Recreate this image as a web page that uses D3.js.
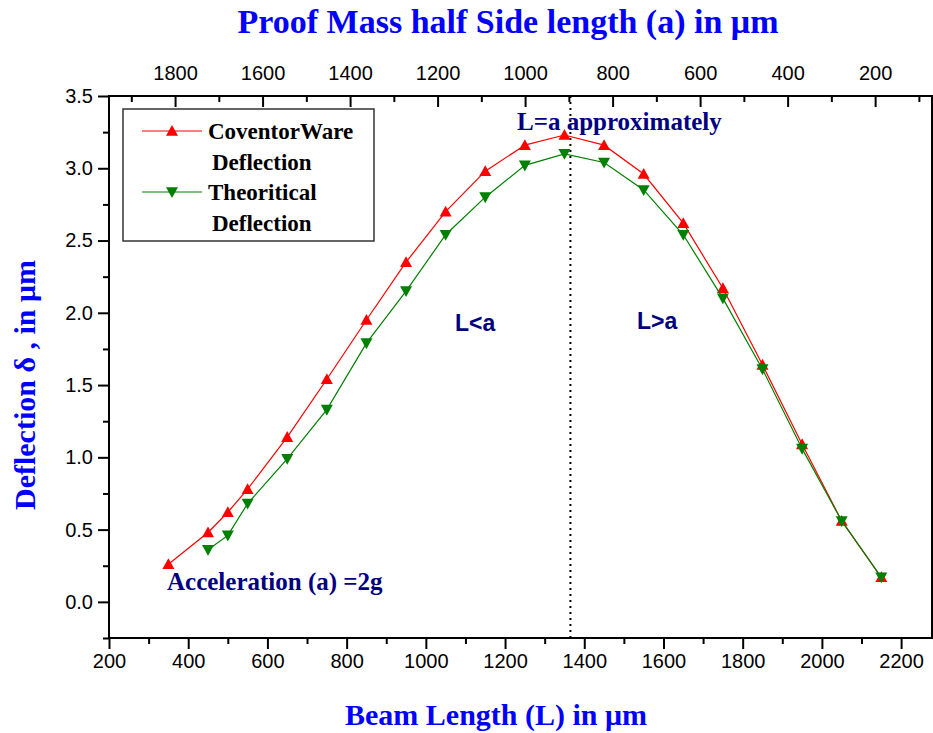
<!DOCTYPE html>
<html>
<head>
<meta charset="utf-8">
<script src="https://cdn.jsdelivr.net/npm/d3@7"></script>
<style>
  body { margin: 0; background: #fff; }
  svg text { font-family: "Liberation Sans", Arial, sans-serif; }
</style>
</head>
<body>
<div id="my_dataviz"></div>
<script>
// beam length values (x) and deflection for each series
var beamLength = [350, 450, 500, 550, 650, 750, 850, 950, 1050, 1150, 1250, 1350, 1450, 1550, 1650, 1750, 1850, 1950, 2050, 2150];
var coventorWare = [0.26, 0.48, 0.62, 0.78, 1.14, 1.54, 1.95, 2.35, 2.70, 2.98, 3.16, 3.23, 3.16, 2.96, 2.62, 2.17, 1.64, 1.09, 0.56, 0.17];
var theoritical = [null, 0.36, 0.46, 0.68, 0.99, 1.33, 1.79, 2.15, 2.54, 2.80, 3.02, 3.10, 3.04, 2.85, 2.54, 2.10, 1.61, 1.06, 0.56, 0.17];
var bottomTicks = [200, 400, 600, 800, 1000, 1200, 1400, 1600, 1800, 2000, 2200];
var topTicks = [1800, 1600, 1400, 1200, 1000, 800, 600, 400, 200];
var yTicks = [0.0, 0.5, 1.0, 1.5, 2.0, 2.5, 3.0, 3.5];
var crossover = 1365;

var W = 933, H = 733;
var margin = {top: 96, right: 1, bottom: 95, left: 109};
var width = W - margin.left - margin.right;
var height = H - margin.top - margin.bottom;
var serif = "'Liberation Serif', 'Times New Roman', serif";

var svg = d3.select("#my_dataviz")
    .append("svg")
    .attr("width", W)
    .attr("height", H);

var g = svg.append("g")
    .attr("transform", "translate(" + margin.left + "," + margin.top + ")");

var xScale = d3.scaleLinear().domain([200, 2278]).range([0, width]);
var xTop = d3.scaleLinear().domain([1951, 70]).range([0, width]);
var yScale = d3.scaleLinear().domain([-0.25, 3.5]).range([height, 0]);

// frame
g.append("rect")
    .attr("width", width).attr("height", height)
    .attr("fill", "none").attr("stroke", "#000").attr("stroke-width", 2);

function styleAxis(sel) {
    sel.select(".domain").remove();
    sel.selectAll("line").attr("stroke", "#000").attr("stroke-width", 2);
    sel.selectAll("text").attr("font-size", 20).attr("fill", "#000")
        .style("font-family", "'Liberation Sans', Arial, sans-serif");
}

// bottom axis (major + minor)
g.append("g")
    .attr("transform", "translate(0," + height + ")")
    .call(d3.axisBottom(xScale).tickValues(d3.range(300, 2278, 200)).tickSize(6).tickFormat(""))
    .call(styleAxis);
g.append("g")
    .attr("transform", "translate(0," + height + ")")
    .call(d3.axisBottom(xScale).tickValues(bottomTicks).tickSize(11).tickPadding(5).tickFormat(d3.format("d")))
    .call(styleAxis);

// left axis
g.append("g")
    .call(d3.axisLeft(yScale).tickValues([-0.25, 0.25, 0.75, 1.25, 1.75, 2.25, 2.75, 3.25]).tickSize(6).tickFormat(""))
    .call(styleAxis);
g.append("g")
    .call(d3.axisLeft(yScale).tickValues(yTicks).tickSize(11).tickPadding(5).tickFormat(d3.format(".1f")))
    .call(styleAxis);

// top axis: ticks point inward, labels above
g.append("g")
    .call(d3.axisTop(xTop).tickValues(d3.range(1900, 70, -200)).tickSize(-6).tickFormat(""))
    .call(styleAxis);
var topAx = g.append("g")
    .call(d3.axisTop(xTop).tickValues(topTicks).tickSize(-11).tickPadding(0).tickFormat(d3.format("d")))
    .call(styleAxis);
topAx.selectAll("text").attr("y", -16);

// dotted L = a line
g.append("line")
    .attr("x1", xScale(crossover)).attr("x2", xScale(crossover))
    .attr("y1", 0).attr("y2", height)
    .attr("stroke", "#000").attr("stroke-width", 2)
    .attr("stroke-dasharray", "2,4");

var series = [
    {name: "CoventorWare", values: coventorWare, color: "#ff0000", symbol: "up"},
    {name: "Theoritical", values: theoritical, color: "#008000", symbol: "down"}
];

var line = d3.line()
    .x(function(d) { return xScale(d.x); })
    .y(function(d) { return yScale(d.v); });

function triPath(dir) {
    var s = 6;
    if (dir === "up") return "M0," + (-s) + "L" + s + "," + (s * 0.8) + "L" + (-s) + "," + (s * 0.8) + "Z";
    return "M0," + s + "L" + s + "," + (-s * 0.8) + "L" + (-s) + "," + (-s * 0.8) + "Z";
}

series.forEach(function(s) {
    var pts = beamLength.map(function(x, i) { return {x: x, v: s.values[i]}; })
        .filter(function(d) { return d.v != null; });
    g.append("path")
        .datum(pts)
        .attr("fill", "none")
        .attr("stroke", s.color)
        .attr("stroke-width", 1.2)
        .attr("d", line);
    g.selectAll(".pt-" + s.symbol)
        .data(pts)
        .enter()
        .append("path")
        .attr("class", "pt-" + s.symbol)
        .attr("transform", function(d) { return "translate(" + xScale(d.x) + "," + yScale(d.v) + ")"; })
        .attr("d", triPath(s.symbol))
        .attr("fill", s.color);
});

// legend
var lg = svg.append("g");
lg.append("rect")
    .attr("x", 123).attr("y", 109).attr("width", 251).attr("height", 132)
    .attr("fill", "#fff").attr("stroke", "#333").attr("stroke-width", 1.5);
var legendRows = [
    {s: series[0], y: 131, lines: ["CoventorWare", "Deflection"]},
    {s: series[1], y: 192, lines: ["Theoritical", "Deflection"]}
];
legendRows.forEach(function(r) {
    lg.append("line")
        .attr("x1", 142).attr("x2", 202).attr("y1", r.y).attr("y2", r.y)
        .attr("stroke", r.s.color).attr("stroke-width", 1.2);
    lg.append("path")
        .attr("transform", "translate(172," + r.y + ")")
        .attr("d", triPath(r.s.symbol))
        .attr("fill", r.s.color);
    lg.append("text")
        .attr("x", 208).attr("y", r.y + 8)
        .style("font-family", serif)
        .attr("font-weight", "bold").attr("font-size", 23)
        .text(r.lines[0]);
    lg.append("text")
        .attr("x", 212).attr("y", r.y + 39)
        .style("font-family", serif)
        .attr("font-weight", "bold").attr("font-size", 23)
        .text(r.lines[1]);
});

// annotations
var navy = "#000080";
svg.append("text")
    .attr("x", 517).attr("y", 130)
    .style("font-family", serif)
    .attr("font-weight", "bold").attr("font-size", 25).attr("fill", navy)
    .text("L=a approximately");
svg.append("text")
    .attr("x", 455).attr("y", 331)
    .attr("font-weight", "bold").attr("font-size", 23).attr("fill", navy)
    .text("L<a");
svg.append("text")
    .attr("x", 637).attr("y", 329)
    .attr("font-weight", "bold").attr("font-size", 23).attr("fill", navy)
    .text("L>a");
svg.append("text")
    .attr("x", 167).attr("y", 590)
    .style("font-family", serif)
    .attr("font-weight", "bold").attr("font-size", 25).attr("fill", navy)
    .text("Acceleration (a) =2g");

// axis titles
function title(x, y, txt, size, rot) {
    var t = svg.append("text")
        .attr("text-anchor", "middle")
        .style("font-family", serif)
        .attr("font-weight", "bold").attr("font-size", size).attr("fill", "#0000ff")
        .text(txt);
    if (rot) t.attr("transform", "translate(" + x + "," + y + ") rotate(-90)");
    else t.attr("x", x).attr("y", y);
}
title(508, 33, "Proof Mass half Side length (a) in \u03bcm", 34);
title(496, 725, "Beam Length (L) in \u03bcm", 30);
title(35, 385, "Deflection \u03b4 , in \u03bcm", 30, true);
</script>
</body>
</html>
